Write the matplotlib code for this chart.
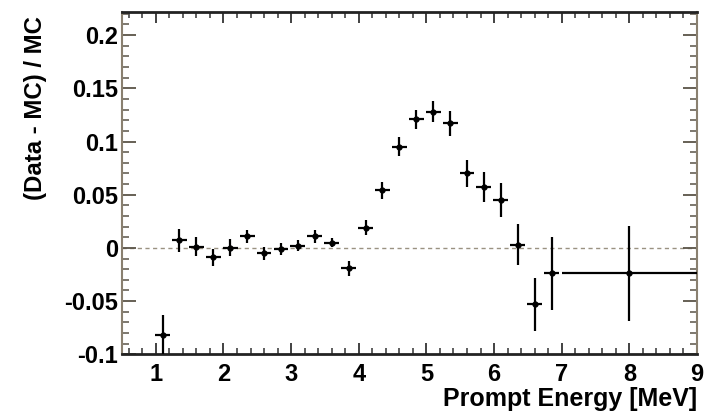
import matplotlib
matplotlib.use('Agg')
import matplotlib.pyplot as plt
import numpy as np
from matplotlib.ticker import MultipleLocator, FuncFormatter

# ratio (data - MC) / MC per prompt energy bin
energy = [1.10, 1.35, 1.60, 1.85, 2.10, 2.35, 2.60, 2.85, 3.10, 3.35, 3.60, 3.85,
          4.10, 4.35, 4.60, 4.85, 5.10, 5.35, 5.60, 5.85, 6.10, 6.35, 6.60, 6.85, 8.00]
ratio = [-0.082, 0.007, 0.001, -0.009, 0.000, 0.011, -0.005, -0.001, 0.002, 0.011, 0.005, -0.019,
         0.019, 0.054, 0.095, 0.121, 0.128, 0.117, 0.070, 0.057, 0.045, 0.003, -0.053, -0.024, -0.024]
ratio_err = [0.019, 0.011, 0.009, 0.008, 0.008, 0.006, 0.006, 0.006, 0.005, 0.006, 0.004, 0.007,
             0.007, 0.008, 0.009, 0.009, 0.010, 0.012, 0.013, 0.014, 0.016, 0.019, 0.025, 0.034, 0.045]
bin_half = [0.11] * 24 + [1.0]

y_ticks = [-0.1, -0.05, 0, 0.05, 0.1, 0.15, 0.2]
x_ticks = [1, 2, 3, 4, 5, 6, 7, 8, 9]

plt.rcParams['font.family'] = ['Liberation Sans', 'DejaVu Sans']
plt.rcParams['font.weight'] = 'bold'

fig = plt.figure(figsize=(7.1, 4.11), dpi=100)
ax = fig.add_axes([0.1718, 0.138, 0.8099, 0.8335])

ax.axhline(0, color='#9a9282', lw=1.0, ls=(0, (3, 2.5)), zorder=1)
ax.errorbar(energy, ratio, yerr=ratio_err, xerr=bin_half, fmt='o', ms=3.5,
            color='black', ecolor='black', elinewidth=1.6, capsize=0, zorder=3)

ax.set_xlim(0.5, 9)
ax.set_ylim(-0.1, 0.222)
ax.set_xticks(x_ticks)
ax.set_yticks(y_ticks)
ax.xaxis.set_minor_locator(MultipleLocator(0.2))
ax.yaxis.set_minor_locator(MultipleLocator(0.01))
ax.yaxis.set_major_formatter(FuncFormatter(lambda v, p: '0' if abs(v) < 1e-9 else ('%g' % v)))

tick_col = '#5a5448'
ax.tick_params(axis='y', which='major', direction='in', length=10, width=1.3,
               left=True, right=True, color=tick_col, labelsize=17, pad=3)
ax.tick_params(axis='y', which='minor', direction='in', length=5, width=1.1,
               left=True, right=True, color=tick_col)
ax.tick_params(axis='x', which='major', direction='in', length=8, width=1.3,
               bottom=True, top=True, color='#333333', labelsize=17, pad=6)
ax.tick_params(axis='x', which='minor', direction='in', length=4.5, width=1.1,
               bottom=True, top=True, color='#333333')

for s in ['left', 'right']:
    ax.spines[s].set_color('#8a8070')
    ax.spines[s].set_linewidth(1.5)
for s in ['top', 'bottom']:
    ax.spines[s].set_color('#222222')
    ax.spines[s].set_linewidth(2.0)

ax.set_ylabel('(Data - MC) / MC', fontsize=17.3, fontweight='bold')
ax.yaxis.set_label_coords(-0.131, 0.719)
ax.set_xlabel('Prompt Energy [MeV]', fontsize=18, fontweight='bold', ha='right')
ax.xaxis.set_label_coords(1.0, -0.095)

plt.savefig('out.png', dpi=100)
